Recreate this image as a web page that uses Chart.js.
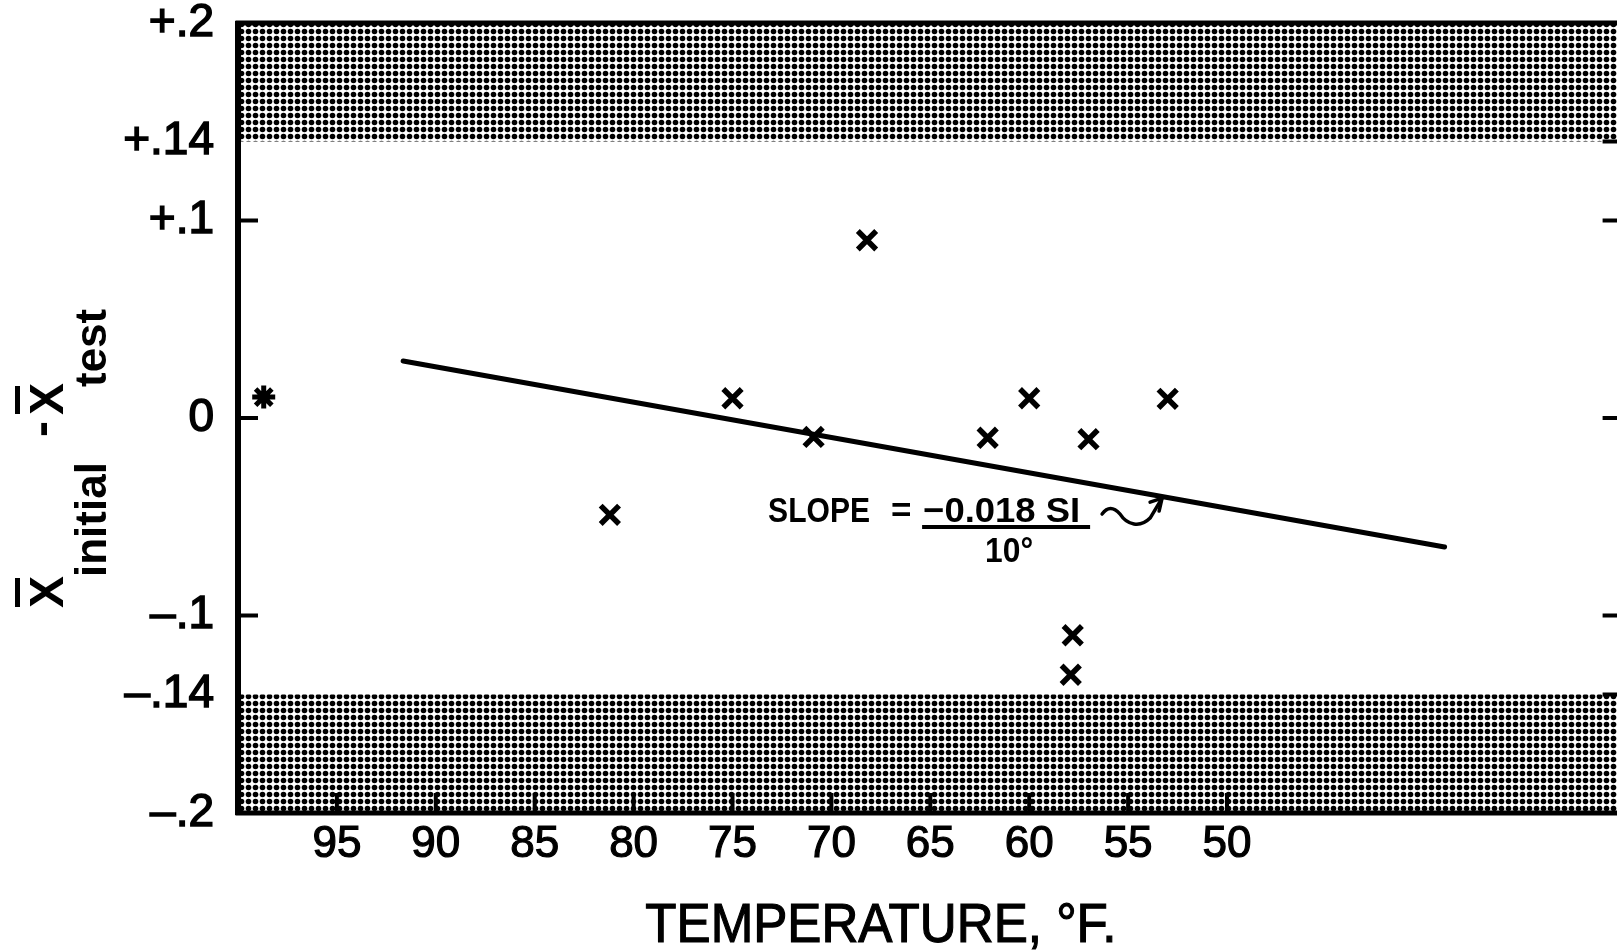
<!DOCTYPE html>
<html>
<head>
<meta charset="utf-8">
<script src="https://cdn.jsdelivr.net/npm/chart.js@4.4.1/dist/chart.umd.min.js"></script>
<style>
  html, body { margin: 0; padding: 0; background: #fff; overflow: hidden; width: 1617px; height: 950px; }
  #wrap { position: absolute; left: 0; top: 0; width: 1617px; height: 950px; overflow: hidden; }
  #c { position: absolute; left: 0; top: 0; }
</style>
</head>
<body>
<div id="wrap"><canvas id="c" width="1630" height="950"></canvas></div>
<script>
// ---------------- data ----------------
const tempF = [81.2, 75.0, 70.9, 68.2, 62.1, 60.0, 57.8, 57.9, 57.0, 53.0];
const diff  = [-0.049, 0.010, -0.0096, 0.090, -0.010, 0.010, -0.110, -0.130, -0.0107, 0.0097];
const starTemp = [98.7];
const starDiff = [0.0106];
const fitTemp = [91.65, 39.0];
const fitDiff = [0.0289, -0.0653];
const bandTemps = [100, 30];
const upperBand = [0.14, 0.2];
const lowerBand = [-0.2, -0.14];
const xTickValues = [95, 90, 85, 80, 75, 70, 65, 60, 55, 50];
const yTickValues = [0.2, 0.14, 0.1, 0, -0.1, -0.14, -0.2];
const yTickLabels = ['+.2', '+.14', '+.1', '0', '\u2013.1', '\u2013.14', '\u2013.2'];
const leftTickValues = [0.1, 0, -0.1];
const rightTickValues = [0.14, 0.1, 0, -0.1, -0.14];
const xAxisTitle = 'TEMPERATURE, \u00B0F.';
const yTitleParts = ['X', 'initial', '-', 'X', 'test'];
const slopeParts = ['SLOPE', '=', '\u22120.018 SI', '10\u00B0'];

const FAM = '"Liberation Sans", Arial, sans-serif';
const CANVAS_W = 1630;
const TARGET_RIGHT = 1622.6;   // plot frame runs just past the right edge of the page

// draw text squeezed/stretched horizontally to a target width (still real text)
function drawFit(ctx, text, x, y, size, weight, width, align, stroke) {
  ctx.save();
  ctx.font = weight + ' ' + size + 'px ' + FAM;
  const w = ctx.measureText(text).width;
  const sx = width ? width / w : 1;
  ctx.translate(x, y);
  ctx.scale(sx, 1);
  ctx.textAlign = align || 'left';
  ctx.textBaseline = 'alphabetic';
  ctx.fillText(text, 0, 0);
  if (stroke) { ctx.lineWidth = stroke; ctx.strokeText(text, 0, 0); }
  ctx.restore();
}

// ---------------- halftone pattern ----------------
const canvas = document.getElementById('c');
const ctx0 = canvas.getContext('2d');
function halftone() {
  const t = document.createElement('canvas');
  t.width = 7; t.height = 7;
  const g = t.getContext('2d');
  g.fillStyle = '#fff'; g.fillRect(0, 0, 7, 7);
  g.fillStyle = '#000';
  g.beginPath(); g.arc(3.5, 3.5, 2.8, 0, Math.PI * 2); g.fill();
  return ctx0.createPattern(t, 'repeat');
}
const dots = halftone();

// ---------------- plugins ----------------
const framePlugin = {
  id: 'frame',
  afterDatasetsDraw(chart) {
    const { ctx, chartArea: a, scales: { x, y } } = chart;
    ctx.save();
    ctx.strokeStyle = '#000';
    ctx.lineWidth = 5;
    ctx.strokeRect(a.left, a.top, a.right - a.left, a.bottom - a.top);
    ctx.lineWidth = 6;
    ctx.beginPath(); ctx.moveTo(a.left, a.top - 2); ctx.lineTo(a.left, a.bottom + 2); ctx.stroke();
    ctx.lineWidth = 4;
    ctx.beginPath();
    leftTickValues.forEach(v => { const p = y.getPixelForValue(v); ctx.moveTo(a.left, p); ctx.lineTo(a.left + 20, p); });
    rightTickValues.forEach(v => { const p = y.getPixelForValue(v); ctx.moveTo(a.right, p); ctx.lineTo(a.right - 20, p); });
    xTickValues.forEach(v => { const p = x.getPixelForValue(v); ctx.moveTo(p, a.bottom); ctx.lineTo(p, a.bottom - 20); });
    ctx.stroke();
    ctx.restore();
  }
};

const textPlugin = {
  id: 'texts',
  afterDraw(chart) {
    const { ctx, chartArea: a, scales: { x, y } } = chart;
    ctx.save();
    ctx.fillStyle = '#000';
    ctx.strokeStyle = '#000';

    // x-axis title
    drawFit(ctx, xAxisTitle, x.getPixelForValue(67.5), a.bottom + 129, 56, 'normal', 471, 'center', 1.2);

    // y-axis title (rotated, with overbars and subscripts)
    ctx.save();
    ctx.translate(a.left - 175, a.top + 585);
    ctx.rotate(-Math.PI / 2);
    ctx.textAlign = 'left';
    ctx.textBaseline = 'alphabetic';
    const big = 'bold 48px ' + FAM, sub = 'bold 44px ' + FAM;
    ctx.font = big; ctx.fillText(yTitleParts[0], 0, 0);
    ctx.font = sub; ctx.fillText(yTitleParts[1], 31, 43);
    ctx.font = big; ctx.fillText(yTitleParts[2], 171, -6);
    ctx.fillText(yTitleParts[3], 193, 0);
    ctx.font = sub; ctx.fillText(yTitleParts[4], 221, 43);
    ctx.lineWidth = 5;
    ctx.beginPath();
    ctx.moveTo(1, -45.5); ctx.lineTo(30, -45.5);
    ctx.moveTo(194, -45.5); ctx.lineTo(222, -45.5);
    ctx.stroke();
    ctx.restore();

    // slope annotation
    const ax = x.getPixelForValue(73.2), ay = y.getPixelForValue(-0.0527);
    drawFit(ctx, slopeParts[0], ax, ay, 35, 'bold', 102, 'left');
    drawFit(ctx, slopeParts[1], ax + 123, ay, 35, 'bold', 0, 'left');
    drawFit(ctx, slopeParts[2], ax + 155, ay, 35, 'bold', 157, 'left');
    drawFit(ctx, slopeParts[3], ax + 241, ay + 40, 35, 'bold', 48, 'center');
    ctx.lineWidth = 4;
    ctx.beginPath(); ctx.moveTo(ax + 154, ay + 5); ctx.lineTo(ax + 322, ay + 5); ctx.stroke();
    // squiggle arrow
    ctx.lineWidth = 3.5;
    ctx.lineCap = 'round';
    ctx.lineJoin = 'round';
    ctx.beginPath();
    ctx.moveTo(ax + 334, ay - 8);
    ctx.quadraticCurveTo(ax + 342, ay - 19, ax + 352, ay - 8);
    ctx.bezierCurveTo(ax + 359, ay + 3, ax + 372, ay + 6, ax + 382, ay - 4);
    ctx.lineTo(ax + 394, ay - 24);
    ctx.stroke();
    ctx.beginPath();
    ctx.moveTo(ax + 382, ay - 20); ctx.lineTo(ax + 394, ay - 24); ctx.lineTo(ax + 391, ay - 11);
    ctx.stroke();
    ctx.restore();
  }
};

// ---------------- chart ----------------
const chart = new Chart(ctx0, {
  type: 'scatter',
  data: {
    datasets: [
      {
        label: 'Tests',
        data: tempF.map((t, i) => ({ x: t, y: diff[i] })),
        pointStyle: 'crossRot',
        pointRadius: 13,
        pointBorderWidth: 5.5,
        borderColor: '#000',
        backgroundColor: '#000',
        order: 0
      },
      {
        label: 'Initial',
        data: starTemp.map((t, i) => ({ x: t, y: starDiff[i] })),
        pointStyle: 'star',
        pointRadius: 11.5,
        pointBorderWidth: 5,
        borderColor: '#000',
        backgroundColor: '#000',
        order: 0
      },
      {
        label: 'Fit',
        type: 'line',
        data: fitTemp.map((t, i) => ({ x: t, y: fitDiff[i] })),
        borderColor: '#000',
        borderWidth: 5,
        borderCapStyle: 'round',
        pointRadius: 0,
        fill: false,
        order: 1
      },
      {
        label: 'Upper limit',
        type: 'line',
        data: bandTemps.map(t => ({ x: t, y: upperBand[1] })),
        fill: { value: upperBand[0] },
        backgroundColor: dots,
        borderWidth: 0,
        pointRadius: 0,
        order: 2
      },
      {
        label: 'Lower limit',
        type: 'line',
        data: bandTemps.map(t => ({ x: t, y: lowerBand[0] })),
        fill: { value: lowerBand[1] },
        backgroundColor: dots,
        borderWidth: 0,
        pointRadius: 0,
        order: 2
      }
    ]
  },
  options: {
    responsive: false,
    animation: false,
    devicePixelRatio: 1,
    layout: { autoPadding: false, padding: { top: 23, right: CANVAS_W - TARGET_RIGHT, left: 0, bottom: 0 } },
    plugins: { legend: { display: false }, tooltip: { enabled: false } },
    scales: {
      x: {
        type: 'linear',
        position: 'bottom',
        reverse: true,
        min: 30,
        max: 100,
        grid: { display: false, drawTicks: false },
        border: { display: false },
        afterBuildTicks: s => { s.ticks = xTickValues.map(v => ({ value: v })); },
        afterFit: s => { s.height = 137; s.paddingLeft = 0; s.paddingRight = 0; },
        ticks: {
          padding: 5,
          autoSkip: false,
          maxRotation: 0,
          color: '#000',
          textStrokeColor: '#000',
          textStrokeWidth: 1.2,
          font: { family: FAM, size: 44 },
          callback: v => String(v)
        }
      },
      y: {
        type: 'linear',
        min: -0.2,
        max: 0.2,
        grid: { display: false, drawTicks: false },
        border: { display: false },
        afterBuildTicks: s => { s.ticks = yTickValues.map(v => ({ value: v })); },
        afterFit: s => { s.width = 238; s.paddingTop = 0; s.paddingBottom = 0; },
        ticks: {
          padding: 24,
          autoSkip: false,
          color: '#000',
          textStrokeColor: '#000',
          textStrokeWidth: 1.5,
          font: { family: FAM, size: 46 },
          callback: (v, i) => yTickLabels[i]
        }
      }
    }
  },
  plugins: [framePlugin, textPlugin]
});
</script>
</body>
</html>
